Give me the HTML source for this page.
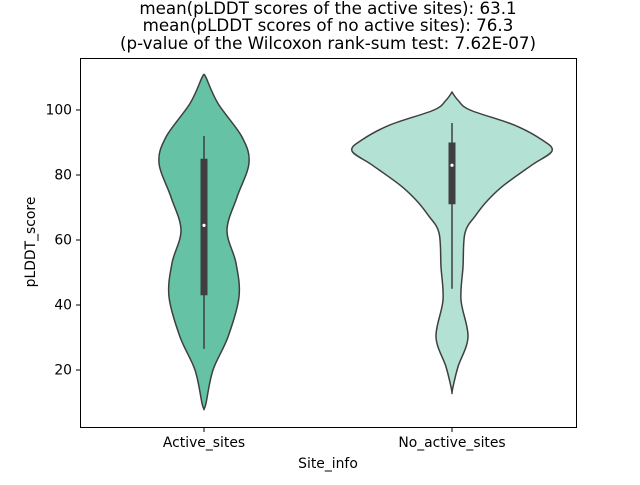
<!DOCTYPE html>
<html><head><meta charset="utf-8"><style>
body{margin:0;background:#fff;font-family:"Liberation Sans","DejaVu Sans",sans-serif;}
svg text{font-family:"DejaVu Sans","Liberation Sans",sans-serif;}
</style></head><body>
<svg id="chart" width="640" height="480" viewBox="0 0 640 480">
<rect width="640" height="480" fill="#fff"/>
<g font-size="16.7" text-anchor="middle" fill="#000">
<text x="328" y="14">mean(pLDDT scores of the active sites): 63.1</text>
<text x="328" y="31">mean(pLDDT scores of no active sites): 76.3</text>
<text x="328" y="49">(p-value of the Wilcoxon rank-sum test: 7.62E-07)</text>
</g>
<g id="plot"></g>
<rect x="80.5" y="58.5" width="496" height="369" fill="none" stroke="#000" stroke-width="1"/>
<text x="328" y="468" font-size="13.9" text-anchor="middle">Site_info</text>
<text transform="translate(35,242) rotate(-90)" font-size="13.9" text-anchor="middle">pLDDT_score</text>
</svg>
<script>
const categories=["Active_sites","No_active_sites"];
const colors=["#66c2a5","#b3e2d5"];
const yTicks=[20,40,60,80,100];
const profileValues=[
[110.8,110,102,91.7,83.7,73.2,63,52.9,42.5,30.2,20,9.8,8],
[105.5,103,100,95.4,90.8,87.4,83.1,76.9,72.3,67.7,62.2,51.7,41.5,30.2,21,14.8,13]];
const profileWidths=[
[0,2,14,38,45,33,23,32,35,24,9,2,0],
[0,6,18,62,90,100,80,52,36,24,13,11,9,16,6,1,0]];
const q1=[43,71];
const q3=[85,90];
const medians=[64.5,83];
const whiskerLow=[26.5,45];
const whiskerHigh=[92,96];

const ns="http://www.w3.org/2000/svg";
const g=document.getElementById('plot');
const svg=document.getElementById('chart');
function y(v){return 110+(100-v)*3.25;}
function x(i){return 204+i*248;}
function mk(tag,attrs,parent){const e=document.createElementNS(ns,tag);for(const k in attrs)e.setAttribute(k,attrs[k]);(parent||g).appendChild(e);return e;}

yTicks.forEach(t=>{
  const l=mk('line',{x1:76,x2:80,y1:y(t),y2:y(t),stroke:'#000'},svg);
  
  
  const tx=mk('text',{x:72,y:y(t)+4.5,'font-size':13.9,'text-anchor':'end'},svg);
  tx.textContent=t;
  
  
});
categories.forEach((c,i)=>{
  const l=mk('line',{x1:x(i),x2:x(i),y1:428,y2:432,stroke:'#000'},svg);
  
  
  const tx=mk('text',{x:x(i),y:447,'font-size':13.9,'text-anchor':'middle'},svg);
  tx.textContent=c;
  
  
  const vals=profileValues[i],w=profileWidths[i];
  const pts=[];
  for(let k=0;k<vals.length;k++)pts.push([x(i)+w[k],y(vals[k])]);
  for(let k=vals.length-1;k>=0;k--)pts.push([x(i)-w[k],y(vals[k])]);
  let d='M'+pts[0][0]+','+pts[0][1];
  for(let k=0;k<pts.length-1;k++){
    const p0=pts[Math.max(k-1,0)],p1=pts[k],p2=pts[k+1],p3=pts[Math.min(k+2,pts.length-1)];
    d+=' C'+(p1[0]+(p2[0]-p0[0])/6)+','+(p1[1]+(p2[1]-p0[1])/6)+' '+(p2[0]-(p3[0]-p1[0])/6)+','+(p2[1]-(p3[1]-p1[1])/6)+' '+p2[0]+','+p2[1];
  }
  d+='Z';
  const v=mk('path',{d:d,fill:colors[i],stroke:'#3f3f3f','stroke-width':1.5});
  
  
  const wl=mk('line',{x1:x(i),x2:x(i),y1:y(whiskerLow[i]),y2:y(whiskerHigh[i]),stroke:'#3f3f3f','stroke-width':1.5});
  
  
  const bx=mk('rect',{x:x(i)-3.5,width:7,y:y(q3[i]),height:y(q1[i])-y(q3[i]),fill:'#3f3f3f'});
  
  
  const md=mk('circle',{cx:x(i),cy:y(medians[i]),r:1.6,fill:'#fff'});
  
  
});
</script>
</body></html>
